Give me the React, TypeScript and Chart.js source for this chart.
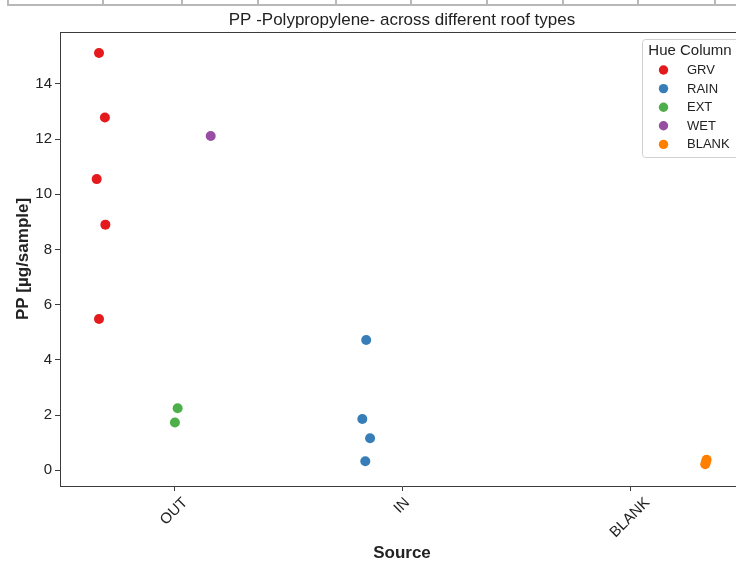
import React, { useEffect, useRef } from "react";
import { Chart, registerables } from "chart.js";

Chart.register(...registerables);

const FONT = '"Liberation Sans", Arial, Helvetica, sans-serif';
const TEXT = "#222222";
const SPINE = "#3c3c3c";

const chartTitle = "PP -Polypropylene- across different roof types";
const xAxisTitle = "Source";
const yAxisTitle = "PP [µg/sample]";
const legendTitle = "Hue Column";

const categories = ["OUT", "IN", "BLANK"];
const hueNames = ["GRV", "RAIN", "EXT", "WET", "BLANK"];
const hueColors = ["#e41a1c", "#377eb8", "#4daf4a", "#984ea3", "#ff7f00"];
const hueCategory = [0, 1, 0, 0, 2];

const grvValues = [15.12, 12.78, 10.55, 8.9, 5.48];
const grvJitter = [-0.009, 0.017, -0.019, 0.019, -0.009];
const rainValues = [4.72, 1.86, 1.16, 0.33];
const rainJitter = [0.003, -0.014, 0.02, -0.001];
const extValues = [2.25, 1.73];
const extJitter = [0.016, 0.004];
const wetValues = [12.11];
const wetJitter = [0.001];
const blankValues = [0.38, 0.3, 0.22];
const blankJitter = [0.016, 0.013, 0.01];

const hueValues = [grvValues, rainValues, extValues, wetValues, blankValues];
const hueJitter = [grvJitter, rainJitter, extJitter, wetJitter, blankJitter];

const yTicks = [0, 2, 4, 6, 8, 10, 12, 14];
const yMin = -0.57;
const yMax = 15.88;

// decorative table row cut off at the top of the picture
const topCellWidths = [95, 79, 76, 78, 75, 76, 76, 75, 77, 40];

const dodgeWidth = 0.8;
function dodgeOffset(h: number) {
  const n = hueNames.length;
  return -dodgeWidth / 2 + (dodgeWidth / n) * (h + 0.5);
}

const decorPlugin = {
  id: "decor",
  afterDraw(chart: any) {
    const ctx = chart.ctx;
    const area = chart.chartArea;
    const xs = chart.scales.x;
    ctx.save();
    // top spine
    ctx.strokeStyle = SPINE;
    ctx.lineWidth = 1;
    ctx.beginPath();
    ctx.moveTo(area.left, area.top + 0.5);
    ctx.lineTo(area.right, area.top + 0.5);
    ctx.stroke();

    // title
    ctx.fillStyle = TEXT;
    ctx.font = `17px ${FONT}`;
    ctx.textAlign = "center";
    ctx.textBaseline = "middle";
    ctx.fillText(chartTitle, (area.left + area.right) / 2, 20);

    // x tick labels, rotated 45°, centered on ticks
    ctx.font = `15px ${FONT}`;
    categories.forEach((c, i) => {
      const x = xs.getPixelForValue(i);
      const w = ctx.measureText(c).width;
      const h = 15;
      const top = area.bottom + 9;
      const cy = top + ((w + h) * Math.SQRT1_2) / 2;
      ctx.save();
      ctx.translate(x, cy);
      ctx.rotate(-Math.PI / 4);
      ctx.textAlign = "center";
      ctx.textBaseline = "middle";
      ctx.fillText(c, 0, 0);
      ctx.restore();
    });

    // axis titles
    ctx.font = `bold 17px ${FONT}`;
    ctx.textAlign = "center";
    ctx.textBaseline = "middle";
    ctx.fillText(xAxisTitle, (area.left + area.right) / 2, 553);
    ctx.save();
    ctx.translate(23, (area.top + area.bottom) / 2);
    ctx.rotate(-Math.PI / 2);
    ctx.fillText(yAxisTitle, 0, 0);
    ctx.restore();

    // legend
    const lx = 642;
    const ly = 39.5;
    const lw = 97;
    const lh = 118;
    ctx.beginPath();
    ctx.roundRect(lx + 0.5, ly, lw, lh, 3);
    ctx.fillStyle = "rgba(255,255,255,0.85)";
    ctx.fill();
    ctx.strokeStyle = "#d0d0d0";
    ctx.lineWidth = 1;
    ctx.stroke();
    ctx.fillStyle = TEXT;
    ctx.font = `15px ${FONT}`;
    ctx.textAlign = "center";
    ctx.fillText(legendTitle, lx + lw / 2 - 0.5, 51);
    ctx.font = `13px ${FONT}`;
    ctx.textAlign = "left";
    hueNames.forEach((name, h) => {
      const y = 70 + h * 18.6;
      ctx.beginPath();
      ctx.arc(663.5, y, 4.7, 0, Math.PI * 2);
      ctx.fillStyle = hueColors[h];
      ctx.fill();
      ctx.fillStyle = TEXT;
      ctx.fillText(name, 687, y + 0.5);
    });
    ctx.restore();
  },
};

export default function App() {
  const canvasRef = useRef<HTMLCanvasElement | null>(null);

  useEffect(() => {
    const canvas = canvasRef.current;
    if (!canvas) return;
    const datasets = hueNames.map((name, h) => ({
      label: name,
      data: hueValues[h].map((v, k) => ({
        x: hueCategory[h] + dodgeOffset(h) + hueJitter[h][k],
        y: v,
      })),
      backgroundColor: hueColors[h],
      borderColor: hueColors[h],
      borderWidth: 0,
      pointRadius: 5,
      pointHoverRadius: 5,
    }));
    const chart = new Chart(canvas, {
      type: "scatter",
      data: { datasets },
      options: {
        responsive: false,
        animation: false,
        devicePixelRatio: 1,
        layout: { padding: { top: 32, right: 16, left: 0, bottom: 0 } },
        plugins: {
          legend: { display: false },
          tooltip: { enabled: false },
          title: { display: false },
        },
        scales: {
          x: {
            type: "linear",
            min: -0.5,
            max: 2.5,
            afterBuildTicks: (s: any) => {
              s.ticks = categories.map((_, i) => ({ value: i }));
            },
            afterFit: (s: any) => {
              s.height = 77;
            },
            ticks: { display: false },
            grid: {
              drawOnChartArea: false,
              drawTicks: true,
              tickLength: 5,
              color: SPINE,
            },
            border: { display: true, color: SPINE, width: 1 },
          },
          y: {
            type: "linear",
            min: yMin,
            max: yMax,
            afterBuildTicks: (s: any) => {
              s.ticks = yTicks.map((v) => ({ value: v }));
            },
            afterFit: (s: any) => {
              s.width = 60;
            },
            ticks: {
              color: TEXT,
              font: { size: 15, family: FONT },
              padding: 3,
            },
            grid: {
              drawOnChartArea: false,
              drawTicks: true,
              tickLength: 5,
              color: SPINE,
            },
            border: { display: true, color: SPINE, width: 1 },
          },
        },
      } as any,
      plugins: [decorPlugin],
    });
    return () => chart.destroy();
  }, []);

  return (
    <div
      style={{
        position: "absolute",
        left: 0,
        top: 0,
        width: 736,
        height: 563,
        overflow: "hidden",
        background: "#fff",
      }}
    >
      <div
        style={{
          position: "absolute",
          left: 7,
          top: 0,
          height: 4,
          display: "flex",
          borderBottom: "2px solid #b8b8b8",
          width: 760,
        }}
      >
        {topCellWidths.map((w, i) => (
          <div
            key={i}
            style={{
              width: w,
              flex: "none",
              boxSizing: "border-box",
              borderLeft: "2px solid #b8b8b8",
              height: 4,
            }}
          />
        ))}
      </div>
      <canvas
        ref={canvasRef}
        width={760}
        height={563}
        style={{ display: "block", position: "absolute", left: 0, top: 0 }}
      />
    </div>
  );
}
